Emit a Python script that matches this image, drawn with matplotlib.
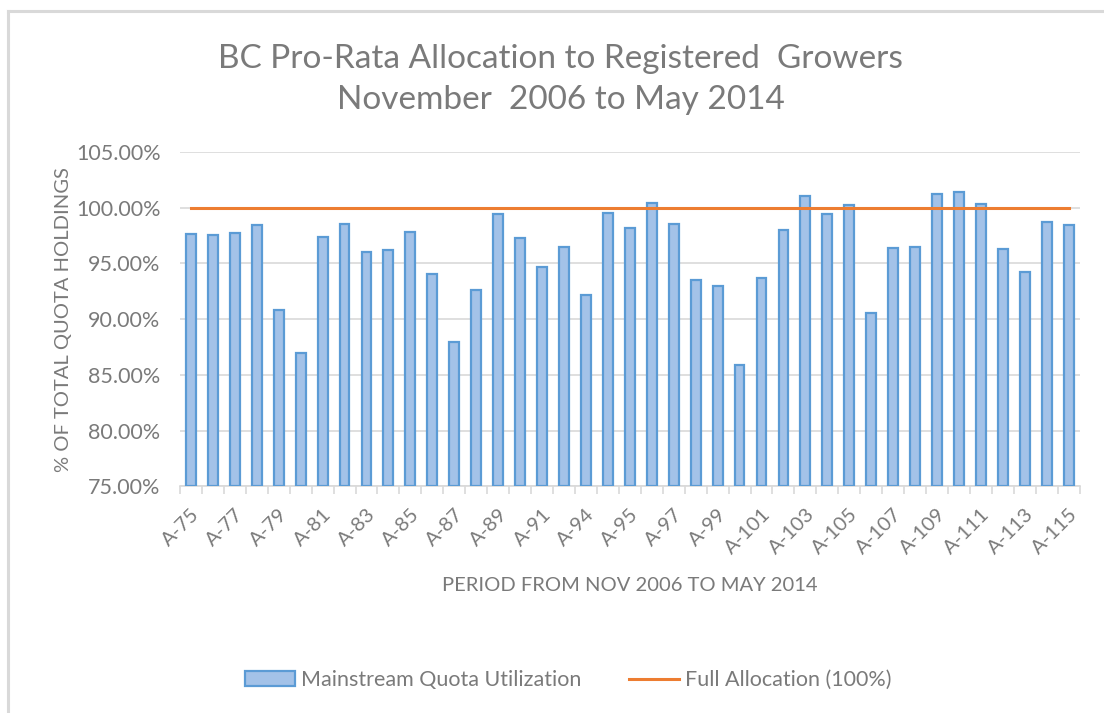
import matplotlib.pyplot as plt
from matplotlib.lines import Line2D
from matplotlib.patches import Patch

# data
periods = [
    "A-75", "A-76", "A-77", "A-78", "A-79", "A-80", "A-81", "A-82", "A-83", "A-84",
    "A-85", "A-86", "A-87", "A-88", "A-89", "A-90", "A-91", "A-92", "A-94", "A-94",
    "A-95", "A-96", "A-97", "A-98", "A-99", "A-100", "A-101", "A-102", "A-103", "A-104",
    "A-105", "A-106", "A-107", "A-108", "A-109", "A-110", "A-111", "A-112", "A-113", "A-114",
    "A-115",
]
utilization = [
    97.6, 97.5, 97.7, 98.4, 90.8, 87.0, 97.4, 98.5, 96.0, 96.2,
    97.8, 94.0, 87.9, 92.6, 99.4, 97.3, 94.7, 96.5, 92.2, 99.5,
    98.2, 100.4, 98.5, 93.5, 93.0, 85.9, 93.7, 98.0, 101.0, 99.4,
    100.2, 90.5, 96.4, 96.5, 101.2, 101.4, 100.3, 96.3, 94.2, 98.7,
    98.4,
]
full_allocation = [100.0] * len(periods)

y_ticks = [75, 80, 85, 90, 95, 100, 105]

TEXT = "#7a7a7a"
GRID = "#d9d9d9"
plt.rcParams["font.family"] = ["Lato", "DejaVu Sans"]

fig = plt.figure(figsize=(11.04, 7.13), dpi=100)
ax = fig.add_axes([0.163, 0.318, 0.815, 0.469])

x = list(range(len(periods)))
ax.bar(x, [v - 75 for v in utilization], bottom=75, width=0.45,
       color="#a3c2e8", edgecolor="#5b9bd5", linewidth=1.6, zorder=3)
ax.plot(x, full_allocation, color="#ed7d31", linewidth=2.2, zorder=4)

ax.set_xlim(-0.5, len(periods) - 0.5)
ax.set_ylim(75, 105)
ax.set_yticks(y_ticks)
ax.set_yticklabels([f"{v:.2f}%" for v in y_ticks], fontsize=15.5, color=TEXT)
ax.yaxis.grid(True, color=GRID, linewidth=1.2, zorder=0)
ax.tick_params(axis="y", length=0, pad=14)

ax.set_xticks(x[::2])
ax.set_xticklabels(periods[::2], rotation=45, ha="right", rotation_mode="anchor",
                   fontsize=14.5, color=TEXT)
ax.set_xticks([i - 0.5 for i in range(len(periods) + 1)], minor=True)
ax.tick_params(axis="x", which="major", length=0, pad=14)
ax.tick_params(axis="x", which="minor", length=6, color=GRID, width=1.2)

for side in ["top", "right", "left"]:
    ax.spines[side].set_visible(False)
ax.spines["bottom"].set_color(GRID)
ax.spines["bottom"].set_linewidth(1.2)

ax.set_ylabel("% OF TOTAL QUOTA HOLDINGS", fontsize=14.5, color=TEXT, labelpad=3)
ax.set_xlabel("PERIOD FROM NOV 2006 TO MAY 2014", fontsize=14.5, color=TEXT, labelpad=14)

fig.text(0.508, 0.889, "BC Pro-Rata Allocation to Registered  Growers\nNovember  2006 to May 2014",
         ha="center", va="center", fontsize=24, color=TEXT, linespacing=1.45)

handles = [
    Patch(facecolor="#a3c2e8", edgecolor="#5b9bd5", linewidth=1.6),
    Line2D([0], [0], color="#ed7d31", linewidth=2.2),
]
fig.legend(handles, ["Mainstream Quota Utilization", "Full Allocation (100%)"],
           loc="center", bbox_to_anchor=(0.515, 0.046), ncol=2, frameon=False,
           fontsize=15.5, labelcolor=TEXT, handlelength=2.3, handletextpad=0.3,
           columnspacing=2.2)

# chart frame (top and left edges visible in the reference)
fig.add_artist(Line2D([0.0075, 0.0075], [0.0, 0.985], color=GRID, linewidth=2.2,
                      transform=fig.transFigure))
fig.add_artist(Line2D([0.0075, 1.0], [0.985, 0.985], color=GRID, linewidth=2.2,
                      transform=fig.transFigure))

fig.savefig("out.png", dpi=100, facecolor="white")
